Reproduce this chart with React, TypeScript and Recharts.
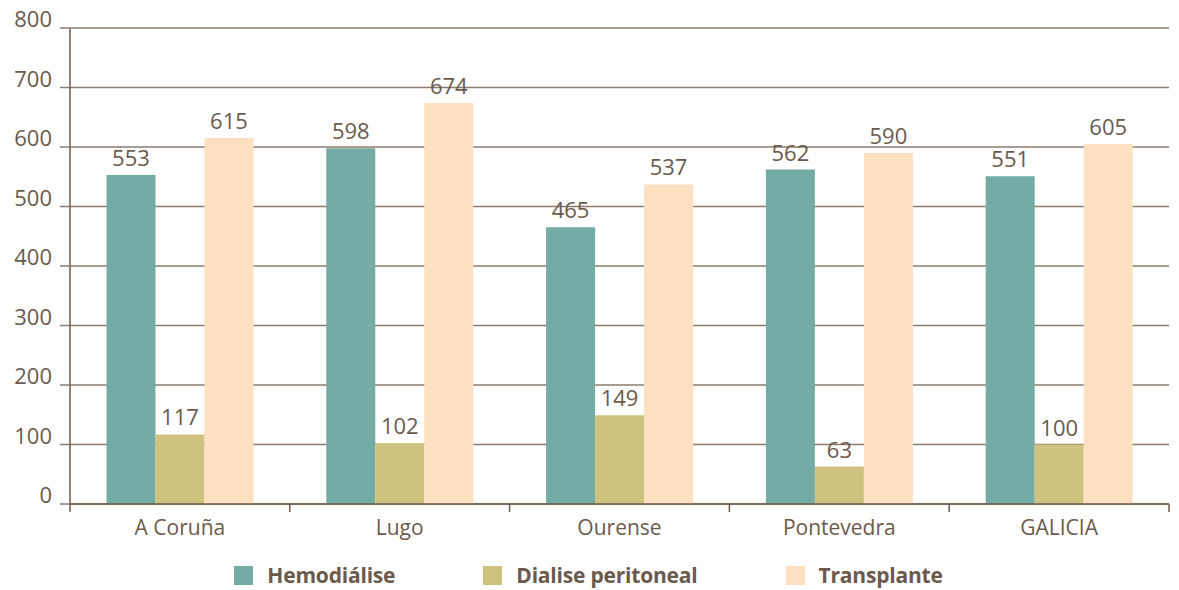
import { Bar, BarChart, CartesianGrid, LabelList, Legend, XAxis, YAxis } from 'recharts'

const categories = ['A Coruña', 'Lugo', 'Ourense', 'Pontevedra', 'GALICIA']
const hemodialise = [553, 598, 465, 562, 551]
const dialisePeritoneal = [117, 102, 149, 63, 100]
const transplante = [615, 674, 537, 590, 605]
const yTicks = [0, 100, 200, 300, 400, 500, 600, 700, 800]

const series = [
  { key: 'hemodialise', name: 'Hemodiálise', color: '#75aba5' },
  { key: 'dialise', name: 'Dialise peritoneal', color: '#cfc27e' },
  { key: 'transplante', name: 'Transplante', color: '#fde0c0' },
]

const data = categories.map((name, i) => ({
  name,
  hemodialise: hemodialise[i],
  dialise: dialisePeritoneal[i],
  transplante: transplante[i],
}))

const TEXT = '#6b5a4c'
const GRID = '#8c7b6e'
const FONT = '"Open Sans", "DejaVu Sans", sans-serif'

// svg sits at the page's top edge (body margin cancelled), so margins are page pixels
const CHART_W = 1171
const CHART_H = 590
const MARGIN = { top: 28, right: 10, left: 0, bottom: 0 }
const Y_WIDTH = 62
const BAND = (CHART_W - MARGIN.left - MARGIN.right - Y_WIDTH) / categories.length

function CategoryTick(props: any) {
  const { x, y, payload, index } = props
  const left = x - BAND / 2
  const right = x + BAND / 2
  return (
    <g>
      <line x1={left} x2={left} y1={y - 8} y2={y} stroke={TEXT} strokeWidth={1.5} />
      {index === categories.length - 1 ? (
        <line x1={right} x2={right} y1={y - 8} y2={y} stroke={TEXT} strokeWidth={1.5} />
      ) : null}
      <text x={x} y={y + 8} dy="0.71em" textAnchor="middle" fill={TEXT} fontSize={21} fontFamily={FONT}>
        {payload.value}
      </text>
    </g>
  )
}

function ValueTick(props: any) {
  const { x, y, payload } = props
  return (
    <text x={x} y={y} dy={-1} textAnchor="end" fill={TEXT} fontSize={22} fontFamily={FONT}>
      {payload.value}
    </text>
  )
}

function LegendContent() {
  return (
    <div
      style={{
        display: 'flex',
        justifyContent: 'center',
        alignItems: 'center',
        gap: 88,
        height: 30,
        paddingTop: 2,
        fontFamily: FONT,
      }}
    >
      {series.map((s) => (
        <div key={s.key} style={{ display: 'flex', alignItems: 'center', gap: 14 }}>
          <span style={{ width: 19, height: 19, background: s.color, display: 'inline-block' }} />
          <span style={{ color: TEXT, fontWeight: 700, fontSize: 21, letterSpacing: -0.2 }}>{s.name}</span>
        </div>
      ))}
    </div>
  )
}

export default function App() {
  return (
    <div style={{ width: CHART_W, height: CHART_H, marginTop: -8 }}>
      <BarChart width={CHART_W} height={CHART_H} data={data} margin={MARGIN} barGap={0} barCategoryGap="16.6%">
        <CartesianGrid vertical={false} stroke={GRID} strokeWidth={1.5} />
        <XAxis
          dataKey="name"
          axisLine={{ stroke: TEXT, strokeWidth: 1.5 }}
          tickLine={false}
          tickSize={8}
          tickMargin={0}
          tick={<CategoryTick />}
          height={56}
          interval={0}
        />
        <YAxis
          domain={[0, 800]}
          ticks={yTicks}
          width={Y_WIDTH}
          axisLine={{ stroke: TEXT, strokeWidth: 1.5 }}
          tickLine={{ stroke: GRID, strokeWidth: 1.5 }}
          tickSize={10}
          tickMargin={8}
          tick={<ValueTick />}
        />
        <Legend verticalAlign="bottom" height={30} content={<LegendContent />} wrapperStyle={{ bottom: 2 }} />
        {series.map((s) => (
          <Bar key={s.key} dataKey={s.key} name={s.name} fill={s.color} isAnimationActive={false}>
            <LabelList dataKey={s.key} position="top" offset={9} fill={TEXT} fontSize={22} fontFamily={FONT} />
          </Bar>
        ))}
      </BarChart>
    </div>
  )
}
